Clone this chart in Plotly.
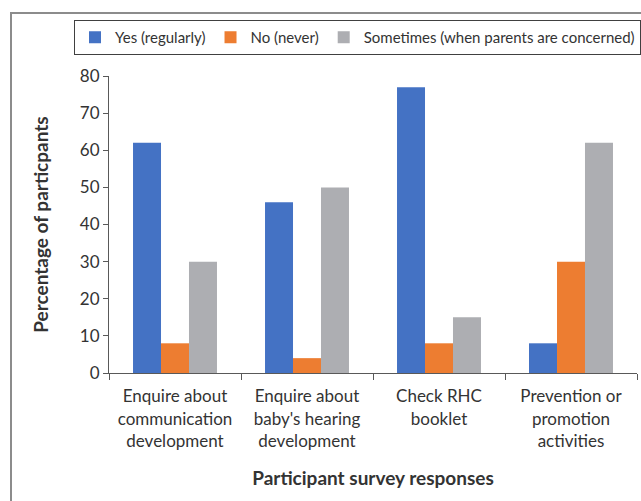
import plotly.graph_objects as go

categories = [
    "Enquire about<br>communication<br>development",
    "Enquire about<br>baby's hearing<br>development",
    "Check RHC<br>booklet",
    "Prevention or<br>promotion<br>activities",
]
series_names = ["Yes (regularly)", "No (never)", "Sometimes (when parents are concerned)"]
yes_values = [62, 46, 77, 8]
no_values = [8, 4, 8, 30]
sometimes_values = [30, 50, 15, 62]
colors = ["#4472C4", "#ED7D31", "#ADAEB2"]
y_ticks = [0, 10, 20, 30, 40, 50, 60, 70, 80]

FONT = "Lato"
TXT = "#333333"

fig = go.Figure()
for name, vals, col in zip(series_names, [yes_values, no_values, sometimes_values], colors):
    fig.add_trace(go.Bar(x=categories, y=vals, name=name, marker=dict(color=col, line=dict(width=0))))

W, H = 641, 501
L, R, T, B = 109, 4, 76, 128
pw = W - L - R
ph = H - T - B

def px_x(p):
    return (p - L) / pw

def px_y(p):
    return (H - B - p) / ph

fig.update_layout(
    width=W, height=H,
    margin=dict(l=L, r=R, t=T, b=B, pad=0),
    paper_bgcolor="white", plot_bgcolor="white",
    barmode="group", bargap=0.364, bargroupgap=0,
    font=dict(family=FONT, color=TXT, size=16),
    showlegend=True,
    legend=dict(
        orientation="h",
        x=px_x(90), xanchor="left",
        y=px_y(20), yanchor="top",
        bordercolor="#404040", borderwidth=1,
        font=dict(family=FONT, size=15, color=TXT),
        itemclick=False, traceorder="normal",
    ),
    xaxis=dict(
        showline=True, linecolor="#595959", linewidth=1,
        ticks="outside", ticklen=6, tickcolor="#595959", tickson="boundaries",
        tickfont=dict(family=FONT, size=17, color=TXT),
        ticklabelstandoff=8,
        showgrid=False,
        title=dict(text="<b>Participant survey responses</b>", font=dict(family=FONT, size=19, color=TXT), standoff=22),
    ),
    yaxis=dict(
        range=[0, 80], tickvals=y_ticks,
        showline=True, linecolor="#595959", linewidth=1,
        ticks="outside", ticklen=5, tickcolor="#595959",
        tickfont=dict(family=FONT, size=17, color=TXT),
        showgrid=False, zeroline=False,
        title=dict(text="<b>Percentage of particpants</b>", font=dict(family=FONT, size=19, color=TXT), standoff=26),
    ),
    shapes=[dict(
        type="rect", xref="paper", yref="paper",
        x0=px_x(11), x1=1.5, y0=-1.0, y1=px_y(13),
        line=dict(color="#8C8C8C", width=2), fillcolor="rgba(0,0,0,0)", layer="below",
    )],
)

fig.write_html("out.html")
